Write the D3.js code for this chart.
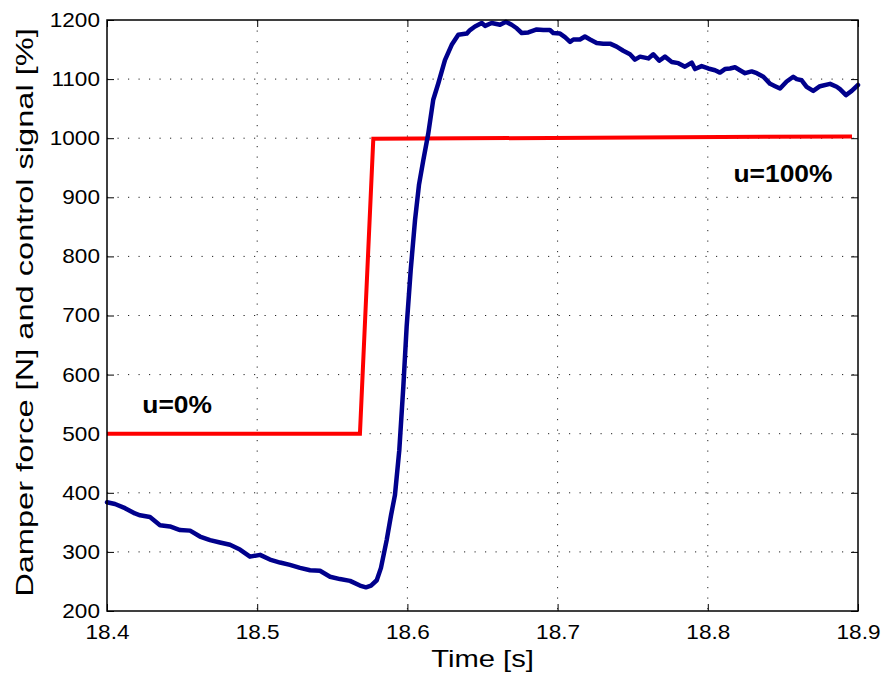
<!DOCTYPE html>
<html>
<head>
<meta charset="utf-8">
<script src="https://cdn.jsdelivr.net/npm/d3@7/dist/d3.min.js"></script>
<style>
  html, body { margin: 0; padding: 0; background: #fff; }
  svg { display: block; }
  text { font-family: "Liberation Sans", Arial, Helvetica, sans-serif; fill: #000; }
</style>
</head>
<body>
<svg id="chart" width="882" height="677"></svg>
<script>
// ---- data ----
const forceTime = [18.4000,18.4053,18.4120,18.4186,18.4220,18.4286,18.4353,18.4419,18.4486,18.4553,
  18.4619,18.4686,18.4752,18.4819,18.4885,18.4952,18.5019,18.5085,18.5152,18.5218,
  18.5285,18.5352,18.5418,18.5485,18.5551,18.5618,18.5684,18.5724,18.5758,18.5796,
  18.5824,18.5862,18.5891,18.5917,18.5946,18.5973,18.5995,18.6022,18.6051,18.6077,
  18.6106,18.6139,18.6172,18.6206,18.6250,18.6295,18.6339,18.6395,18.6417,18.6450,
  18.6495,18.6517,18.6561,18.6617,18.6656,18.6694,18.6728,18.6761,18.6805,18.6838,
  18.6861,18.6905,18.6949,18.6971,18.7016,18.7049,18.7083,18.7105,18.7149,18.7182,
  18.7216,18.7260,18.7304,18.7349,18.7393,18.7437,18.7482,18.7515,18.7549,18.7604,
  18.7637,18.7677,18.7715,18.7760,18.7804,18.7848,18.7893,18.7915,18.7959,18.8003,
  18.8048,18.8081,18.8114,18.8148,18.8181,18.8214,18.8248,18.8292,18.8326,18.8370,
  18.8415,18.8448,18.8481,18.8525,18.8569,18.8592,18.8625,18.8658,18.8702,18.8747,
  18.8814,18.8858,18.8880,18.8920,18.8958,18.9000];
const force = [384,381,374,365,362,359,345,343,337,336,
  326,320,316,312,304,292,295,287,282,278,
  273,269,268,258,254,251,243,240,243,252,
  273,320,362,396,472,580,681,777,862,921,
  963,1008,1065,1093,1132,1158,1175,1177,1183,1189,
  1195,1190,1195,1192,1197,1192,1186,1178,1179,1182,
  1184,1183,1183,1178,1177,1171,1163,1167,1167,1172,
  1167,1161,1160,1160,1155,1148,1142,1133,1138,1135,
  1142,1131,1138,1129,1127,1121,1128,1117,1122,1118,
  1115,1111,1117,1118,1120,1115,1110,1113,1110,1104,
  1092,1088,1084,1096,1104,1100,1098,1087,1080,1088,
  1092,1087,1083,1073,1080,1090];
const signalTime = [18.4000, 18.5684, 18.5773, 18.8960];
const signal = [500, 500, 999, 1003];
const xTicks = [18.4, 18.5, 18.6, 18.7, 18.8, 18.9];
const yTicks = [200, 300, 400, 500, 600, 700, 800, 900, 1000, 1100, 1200];
const xLabel = "Time [s]";
const yLabel = "Damper force [N] and control signal [%]";
const annotations = [
  { text: "u=0%", t: 18.4235, v: 535 },
  { text: "u=100%", t: 18.8171, v: 926 }
];

// ---- layout ----
const svg = d3.select("#chart");
const L = 107, T = 20, W = 751, H = 591;
const x = d3.scaleLinear().domain([18.4, 18.9]).range([L, L + W]);
const y = d3.scaleLinear().domain([200, 1200]).range([T + H, T]);

// grid
const grid = svg.append("g");
grid.selectAll("line.gx").data(xTicks.slice(1, -1)).join("line")
  .attr("x1", d => x(d)).attr("x2", d => x(d)).attr("y1", T).attr("y2", T + H)
  .attr("stroke", "#222").attr("stroke-width", 1).attr("stroke-dasharray", "1.2,9.3");
grid.selectAll("line.gy").data(yTicks.slice(1, -1)).join("line")
  .attr("y1", d => y(d)).attr("y2", d => y(d)).attr("x1", L).attr("x2", L + W)
  .attr("stroke", "#222").attr("stroke-width", 1).attr("stroke-dasharray", "1.2,9.3");

// axes
const tickFmt = d3.format("");
const sx = 1.13;
const gL = svg.append("g").attr("transform", `translate(${L},0)`)
  .call(d3.axisLeft(y).tickValues(yTicks).tickSize(-7).tickPadding(7).tickFormat(tickFmt));
const gB = svg.append("g").attr("transform", `translate(0,${T + H})`)
  .call(d3.axisBottom(x).tickValues(xTicks).tickSize(-7).tickPadding(7).tickFormat(d3.format(".1f")));
const gR = svg.append("g").attr("transform", `translate(${L + W},0)`)
  .call(d3.axisRight(y).tickValues(yTicks).tickSize(-7).tickFormat(""));
const gT = svg.append("g").attr("transform", `translate(0,${T})`)
  .call(d3.axisTop(x).tickValues(xTicks).tickSize(-7).tickFormat(""));
[gL, gB, gR, gT].forEach(g => {
  g.select(".domain").remove();
  g.selectAll(".tick line").attr("stroke", "#000").attr("stroke-width", 1);
  g.selectAll("text").attr("font-size", 20).attr("fill", "#000")
    .attr("font-family", "Liberation Sans, Arial, sans-serif");
});
gL.selectAll(".tick text").attr("transform", `scale(${sx},1)`).attr("x", -7 / sx);
gB.selectAll(".tick text").attr("transform", `scale(${sx},1)`).attr("y", 14);

// lines
svg.append("path").datum(signal)
  .attr("fill", "none").attr("stroke", "#ff0000").attr("stroke-width", 4)
  .attr("stroke-linejoin", "miter")
  .attr("d", d3.line().x((d, i) => x(signalTime[i])).y(d => y(d)));
svg.append("path").datum(force)
  .attr("fill", "none").attr("stroke", "#00008c").attr("stroke-width", 4.5)
  .attr("stroke-linejoin", "round").attr("stroke-linecap", "round")
  .attr("d", d3.line().x((d, i) => x(forceTime[i])).y(d => y(d)));

// frame
svg.append("rect").attr("x", L).attr("y", T).attr("width", W).attr("height", H)
  .attr("fill", "none").attr("stroke", "#000").attr("stroke-width", 1.5);

// annotations
annotations.forEach(a => {
  svg.append("text")
    .attr("transform", `translate(${x(a.t)},${y(a.v)}) scale(1.1,1)`)
    .attr("font-size", 24).attr("font-weight", "bold")
    .text(a.text);
});

// axis labels
svg.append("text")
  .attr("transform", `translate(${L + W / 2},667) scale(1.27,1)`)
  .attr("text-anchor", "middle").attr("font-size", 23)
  .text(xLabel);
const yl = svg.append("text")
  .attr("text-anchor", "middle").attr("font-size", 24)
  .text(yLabel);
const ylLen = yl.node().getComputedTextLength();
const ylScale = ylLen > 0 ? 569 / ylLen : 1.3;
yl.attr("transform", `translate(33,312.5) rotate(-90) scale(${ylScale},1)`);
</script>
</body>
</html>
